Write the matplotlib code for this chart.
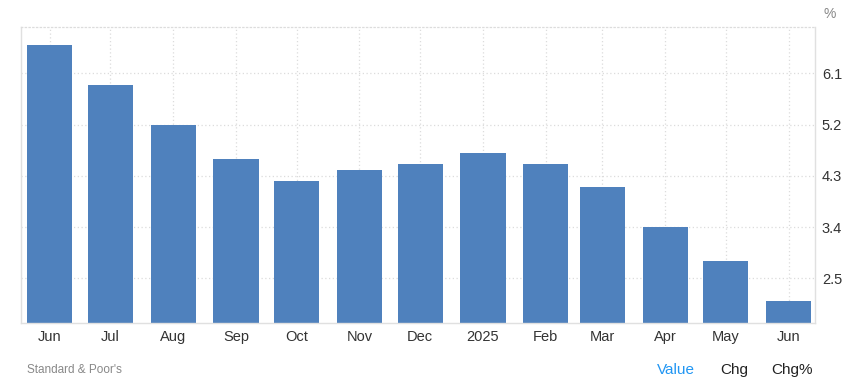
import datetime as dt
import matplotlib
matplotlib.use("Agg")
from matplotlib import pyplot as plt
import matplotlib.dates as mdates

# donnees (variation annuelle, %)
months = [dt.date(2024, m, 1) for m in range(6, 13)] + [dt.date(2025, m, 1) for m in range(1, 7)]
labels = ["Jun", "Jul", "Aug", "Sep", "Oct", "Nov", "Dec", "2025", "Feb", "Mar", "Apr", "May", "Jun"]
values = [6.6, 5.9, 5.2, 4.6, 4.2, 4.4, 4.5, 4.7, 4.5, 4.1, 3.4, 2.8, 2.1]
yticks = [2.5, 3.4, 4.3, 5.2, 6.1]

plt.rcParams["font.family"] = ["Liberation Sans", "DejaVu Sans"]

fig = plt.figure(figsize=(8.47, 3.85), dpi=100)
ax = fig.add_axes([0.0252, 0.1603, 0.9370, 0.7687])

ax.bar(months, values, width=22.3, color="#4f81bd", zorder=2)

ax.set_xlim(months[0] - dt.timedelta(days=14.5), months[0] + dt.timedelta(days=378.6))
ax.set_ylim(1.709, 6.908)

ax.set_xticks(months)
ax.set_xticklabels(labels)
ax.set_yticks(yticks)
ax.set_yticklabels([str(v) for v in yticks])
ax.yaxis.tick_right()

ax.tick_params(axis="both", length=0, labelsize=10.5, colors="#333333")
ax.tick_params(axis="x", pad=5)
ax.tick_params(axis="y", pad=5)

ax.grid(True, linestyle=(0, (1, 2)), color="#dcdcdc", linewidth=0.9, zorder=0)

for side in ["left", "bottom", "right"]:
    ax.spines[side].set_color("#e0e0e0")
    ax.spines[side].set_linewidth(1.0)
ax.spines["top"].set_color("#dcdcdc")
ax.spines["top"].set_linestyle((0, (1, 2)))
ax.spines["top"].set_linewidth(0.9)

fig.text(0.980, 0.982, "%", ha="center", va="top", fontsize=10, color="#888888")
fig.text(0.032, 0.040, "Standard & Poor's", ha="left", va="center", fontsize=8.5, color="#888888")
fig.text(0.776, 0.040, "Value", ha="left", va="center", fontsize=11, color="#2196f3")
fig.text(0.850, 0.040, "Chg", ha="left", va="center", fontsize=11, color="#222222")
fig.text(0.910, 0.040, "Chg%", ha="left", va="center", fontsize=11, color="#222222")

fig.savefig("out.png", dpi=100)
plt.close()
